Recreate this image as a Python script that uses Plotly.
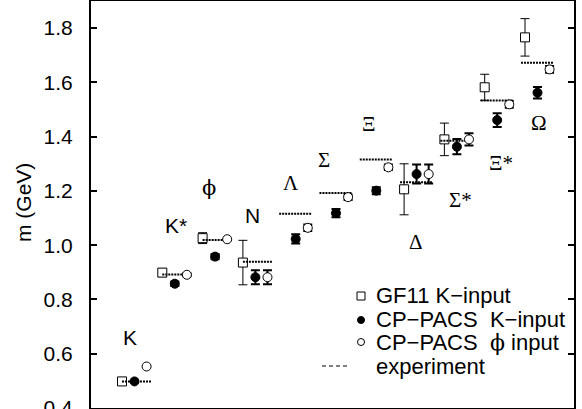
import plotly.graph_objects as go

# ---------------- data ----------------
hadrons = ["K", "K*", "\u03d5", "N", "Λ", "Σ", "Ξ", "Δ", "Σ*", "Ξ*", "Ω"]
experiment = [0.4977, 0.8917, 1.0195, 0.9389, 1.1157, 1.1926, 1.3160, 1.2320, 1.3846, 1.5334, 1.6725]

gf11_mass = [0.498, 0.899, 1.026, 0.936, None, None, None, 1.206, 1.390, 1.582, 1.766]
gf11_err = [0.008, 0.015, 0.020, 0.082, None, None, None, 0.094, 0.060, 0.048, 0.069]

cpk_mass = [0.498, 0.858, 0.958, 0.882, 1.023, 1.118, 1.201, 1.262, 1.363, 1.461, 1.562]
cpk_err = [0.0, 0.008, 0.010, 0.026, 0.017, 0.015, 0.013, 0.035, 0.028, 0.025, 0.021]

cpphi_mass = [0.553, 0.891, 1.022, 0.882, 1.064, 1.177, 1.287, 1.262, 1.390, 1.519, 1.648]
cpphi_err = [0.0, 0.005, 0.0, 0.026, 0.012, 0.010, 0.010, 0.035, 0.023, 0.012, 0.012]

y_ticks = [0.4, 0.6, 0.8, 1.0, 1.2, 1.4, 1.6, 1.8]
y_title = "m (GeV)"
SERIF = "Liberation Serif"
PHI_FONT = "DejaVu Serif"
legend_names = ["GF11 K\u2212input", "CP\u2212PACS\u00a0 K\u2212input",
                "CP\u2212PACS\u00a0 <span style=\"font-family:'DejaVu Serif'\">\u03d5</span> input",
                "experiment"]

# ---------------- layout helpers ----------------
W, H = 582, 409
ML, MR, MT, MB = 91, 8, 1, 1
PW, PH = W - ML - MR, H - MT - MB
SPACING_PX = 40.3
FIRST_PX = 122
x_range = [(ML - FIRST_PX) / SPACING_PX, (W - MR - FIRST_PX) / SPACING_PX]
y_range = [0.4, 1.9]

def px_x(p):
    return (p - ML) / PW

def px_y(p):
    return (H - MB - p) / PH

idx = list(range(len(hadrons)))
off_sq, off_fill, off_open = 0.0, 0.31, 0.61
line_start = [0.0 if i < 4 else -0.1 for i in idx]
line_end = [0.72 if i < 4 else 0.70 for i in idx]

label_dx = [0.2, 0.34, 0.16, 0.25, 0.19, 0.0, 0.13, 0.3, 0.41, 0.4, 0.35]
label_y = [0.659, 1.071, 1.211, 1.108, 1.228, 1.314, 1.447, 1.013, 1.167, 1.302, 1.449]
label_font = ["sans", "sans", "phi", "sans", "serif", "serif", "serif", "serif", "serif", "serif", "serif"]

FONT = "Liberation Sans"
FAMILIES = {"sans": FONT, "serif": SERIF, "phi": PHI_FONT}

fig = go.Figure()

# GF11 squares
fig.add_trace(go.Scatter(
    x=[i + off_sq for i in idx], y=gf11_mass, mode="markers",
    marker=dict(symbol="square", size=9, color="white", line=dict(color="black", width=1)),
    error_y=dict(type="data", array=gf11_err, color="black", thickness=1, width=4.5),
    name=legend_names[0], showlegend=False))

# experiment dashed segments
ex_x, ex_y = [], []
for i in idx:
    ex_x += [i + line_start[i], i + line_end[i], None]
    ex_y += [experiment[i], experiment[i], None]
fig.add_trace(go.Scatter(
    x=ex_x, y=ex_y, mode="lines",
    line=dict(color="black", width=2, dash="2px,1px"),
    name=legend_names[3], showlegend=False))

# CP-PACS K-input (filled)
fig.add_trace(go.Scatter(
    x=[i + off_fill for i in idx], y=cpk_mass, mode="markers",
    marker=dict(symbol="circle", size=9, color="black", line=dict(color="black", width=1)),
    error_y=dict(type="data", array=cpk_err, color="black", thickness=2, width=4.5),
    name=legend_names[1], showlegend=False))

# CP-PACS phi-input (open)
fig.add_trace(go.Scatter(
    x=[i + off_open for i in idx], y=cpphi_mass, mode="markers",
    marker=dict(symbol="circle", size=9, color="white", line=dict(color="black", width=1)),
    error_y=dict(type="data", array=cpphi_err, color="black", thickness=2, width=4.5),
    name=legend_names[2], showlegend=False))

annotations = []
for i in idx:
    annotations.append(dict(
        x=i + label_dx[i], y=label_y[i], xref="x", yref="y", text=hadrons[i],
        showarrow=False, xanchor="center", yanchor="middle",
        font=dict(family=FAMILIES[label_font[i]], size=21, color="black")))

# y-axis title
annotations.append(dict(
    x=px_x(23), y=px_y(203), xref="paper", yref="paper", text=y_title, textangle=-90,
    showarrow=False, xanchor="center", yanchor="middle",
    font=dict(family=FONT, size=21, color="black")))

# manual legend
leg_rows = [295, 319, 342, 366]
for r, name in zip(leg_rows, legend_names):
    annotations.append(dict(
        x=px_x(374), y=px_y(r), xref="paper", yref="paper", text=name,
        showarrow=False, xanchor="left", yanchor="middle",
        font=dict(family=FONT, size=22, color="black")))

shapes = [
    dict(type="rect", xref="paper", yref="paper", xsizemode="pixel", ysizemode="pixel",
         xanchor=px_x(361), yanchor=px_y(296), x0=-4, x1=4, y0=-4, y1=4,
         line=dict(color="black", width=1), fillcolor="white"),
    dict(type="circle", xref="paper", yref="paper", xsizemode="pixel", ysizemode="pixel",
         xanchor=px_x(361), yanchor=px_y(320), x0=-3.5, x1=3.5, y0=-3.5, y1=3.5,
         line=dict(color="black", width=1), fillcolor="black"),
    dict(type="circle", xref="paper", yref="paper", xsizemode="pixel", ysizemode="pixel",
         xanchor=px_x(361), yanchor=px_y(342), x0=-3.5, x1=3.5, y0=-3.5, y1=3.5,
         line=dict(color="black", width=1), fillcolor="white"),
    dict(type="line", xref="paper", yref="paper", x0=px_x(322), x1=px_x(348),
         y0=px_y(366), y1=px_y(366), line=dict(color="black", width=1, dash="4px,3px")),
]

fig.update_layout(
    width=W, height=H, margin=dict(l=ML, r=MR, t=MT, b=MB, pad=0),
    paper_bgcolor="white", plot_bgcolor="white",
    font=dict(family=FONT, size=21, color="black"),
    showlegend=False, annotations=annotations, shapes=shapes,
    xaxis=dict(range=x_range, showticklabels=False, ticks="", showgrid=False, zeroline=False,
               showline=True, linecolor="black", linewidth=2, mirror=True, automargin=False),
    yaxis=dict(range=y_range, tickvals=y_ticks, ticktext=[f"{v:.1f}" for v in y_ticks],
               ticks="inside", ticklen=6, tickwidth=1.5, tickcolor="black",
               showgrid=False, zeroline=False, showline=True, linecolor="black", linewidth=2,
               mirror="ticks", ticklabelstandoff=12, ticklabeloverflow="allow", automargin=False,
               tickfont=dict(family=FONT, size=21, color="black")),
)

fig.write_html("out.html", config={"responsive": False, "displayModeBar": False},
               post_script="document.body.style.margin='0';document.body.style.overflow='hidden';")
